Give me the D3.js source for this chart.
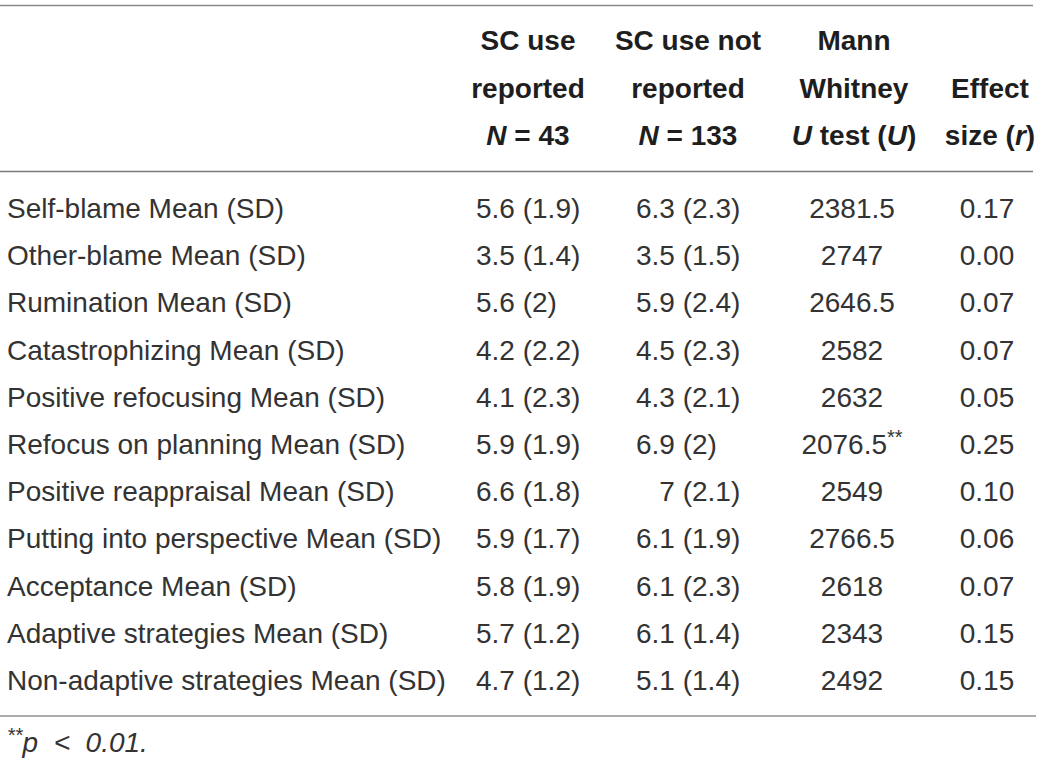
<!DOCTYPE html>
<html>
<head>
<meta charset="utf-8">
<script src="https://cdn.jsdelivr.net/npm/d3@7"></script>
<style>
  html, body { margin: 0; padding: 0; background: #fff; }
  svg { display: block; }
  text { font-family: "Liberation Sans", Arial, Helvetica, sans-serif; }
</style>
</head>
<body>
<svg id="chart" width="1040" height="764"></svg>
<script>
// ---- data ----
var rowLabels = [
  "Self-blame Mean (SD)",
  "Other-blame Mean (SD)",
  "Rumination Mean (SD)",
  "Catastrophizing Mean (SD)",
  "Positive refocusing Mean (SD)",
  "Refocus on planning Mean (SD)",
  "Positive reappraisal Mean (SD)",
  "Putting into perspective Mean (SD)",
  "Acceptance Mean (SD)",
  "Adaptive strategies Mean (SD)",
  "Non-adaptive strategies Mean (SD)"
];
var reportedMean = ["5.6", "3.5", "5.6", "4.2", "4.1", "5.9", "6.6", "5.9", "5.8", "5.7", "4.7"];
var reportedSD   = ["1.9", "1.4", "2",   "2.2", "2.3", "1.9", "1.8", "1.7", "1.9", "1.2", "1.2"];
var notReportedMean = ["6.3", "3.5", "5.9", "4.5", "4.3", "6.9", "7",   "6.1", "6.1", "6.1", "5.1"];
var notReportedSD   = ["2.3", "1.5", "2.4", "2.3", "2.1", "2",   "2.1", "1.9", "2.3", "1.4", "1.4"];
var mannWhitneyU = ["2381.5", "2747", "2646.5", "2582", "2632", "2076.5", "2549", "2766.5", "2618", "2343", "2492"];
var significance = ["", "", "", "", "", "**", "", "", "", "", ""];
var effectSize = ["0.17", "0.00", "0.07", "0.07", "0.05", "0.25", "0.10", "0.06", "0.07", "0.15", "0.15"];

// header lines: arrays of [text, italic] segments
var headers = [
  [[["SC use", false]], [["reported", false]], [["N", true], [" = 43", false]]],
  [[["SC use not", false]], [["reported", false]], [["N", true], [" = 133", false]]],
  [[["Mann", false]], [["Whitney", false]], [["U", true], [" test (", false], ["U", true], [")", false]]],
  [[], [["Effect", false]], [["size (", false], ["r", true], [")", false]]]
];
var footnoteStars = "**";
var footnoteText = "p  <  0.01.";

// ---- layout ----
var svg = d3.select("#chart");
var fontSize = 28;
var textColor = "#333333";

var rowY = d3.scaleLinear().domain([0, rowLabels.length - 1]).range([218, 690]);
var headY = d3.scaleLinear().domain([0, 2]).range([50, 145]);

var labelX = 7;
var col = [
  { x: 476, anchor: "start", headX: 528 },
  { x: 636, anchor: "start", headX: 688 },
  { x: 852, anchor: "middle", headX: 854 },
  { x: 987, anchor: "middle", headX: 990 }
];

// rules
var rules = [
  { y: 5.5, x2: 1033, color: "#8a8a8a", w: 1.4 },
  { y: 171.5, x2: 1033, color: "#7a7a7a", w: 1.4 },
  { y: 716, x2: 1036, color: "#ababab", w: 2.2 }
];
svg.selectAll("line.rule").data(rules).enter().append("line")
  .attr("class", "rule")
  .attr("x1", 0).attr("x2", function(d) { return d.x2; })
  .attr("y1", function(d) { return d.y; }).attr("y2", function(d) { return d.y; })
  .attr("stroke", function(d) { return d.color; })
  .attr("stroke-width", function(d) { return d.w; });

// headers
headers.forEach(function(lines, ci) {
  lines.forEach(function(segs, li) {
    if (!segs.length) return;
    var t = svg.append("text")
      .attr("x", col[ci].headX)
      .attr("y", headY(li))
      .attr("text-anchor", "middle")
      .attr("font-size", fontSize)
      .attr("font-weight", "bold")
      .attr("fill", "#1e1e1e")
      .style("white-space", "pre");
    segs.forEach(function(s) {
      t.append("tspan").text(s[0]).attr("font-style", s[1] ? "italic" : "normal");
    });
  });
});

// body rows
var rows = rowLabels.map(function(label, i) {
  return {
    label: label,
    c1: reportedMean[i] + " (" + reportedSD[i] + ")",
    c2: (notReportedMean[i].indexOf(".") < 0 ? "   " : "") + notReportedMean[i] + " (" + notReportedSD[i] + ")",
    u: mannWhitneyU[i],
    sig: significance[i],
    r: effectSize[i],
    i: i
  };
});

var g = svg.append("g")
  .attr("font-size", fontSize)
  .attr("fill", textColor);

var rowG = g.selectAll("g.row").data(rows).enter().append("g")
  .attr("class", "row")
  .attr("transform", function(d) { return "translate(0," + rowY(d.i) + ")"; });

rowG.append("text").attr("x", labelX).text(function(d) { return d.label; });
rowG.append("text").attr("x", col[0].x).attr("text-anchor", col[0].anchor)
  .text(function(d) { return d.c1; });
rowG.append("text").attr("x", col[1].x).attr("text-anchor", col[1].anchor)
  .style("white-space", "pre").text(function(d) { return d.c2; });
rowG.append("text").attr("x", col[2].x).attr("text-anchor", col[2].anchor)
  .each(function(d) {
    var t = d3.select(this);
    t.append("tspan").text(d.u);
    if (d.sig) t.append("tspan").attr("font-size", 20).attr("dy", -10).text(d.sig);
  });
rowG.append("text").attr("x", col[3].x).attr("text-anchor", col[3].anchor)
  .text(function(d) { return d.r; });

// footnote
var fn = svg.append("text")
  .attr("x", labelX).attr("y", 752)
  .attr("font-size", fontSize)
  .attr("font-style", "italic")
  .attr("fill", textColor)
  .style("white-space", "pre");
fn.append("tspan").attr("font-size", 20).attr("dy", -10).text(footnoteStars);
fn.append("tspan").attr("dy", 10).text(footnoteText);
</script>
</body>
</html>
